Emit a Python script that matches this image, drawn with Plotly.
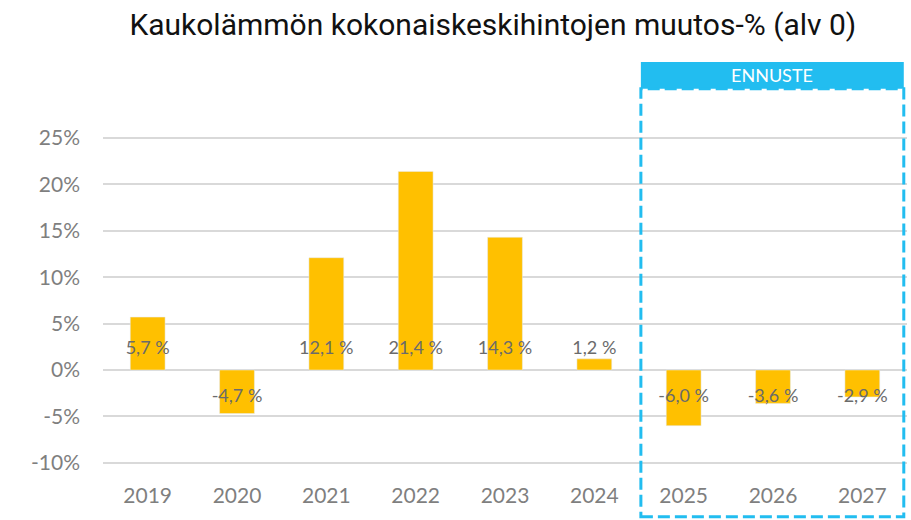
import plotly.graph_objects as go

years = ["2019", "2020", "2021", "2022", "2023", "2024", "2025", "2026", "2027"]
changes = [5.7, -4.7, 12.1, 21.4, 14.3, 1.2, -6.0, -3.6, -2.9]
labels = ["5,7 %", "-4,7 %", "12,1 %", "21,4 %", "14,3 %", "1,2 %", "-6,0 %", "-3,6 %", "-2,9 %"]
y_ticks = [-10, -5, 0, 5, 10, 15, 20, 25]
y_tick_text = ["-10%", "-5%", "0%", "5%", "10%", "15%", "20%", "25%"]
title_text = "Kaukolämmön kokonaiskeskihintojen muutos-% (alv 0)"
forecast_label = "ENNUSTE"

GOLD = "#FFC000"
BLUE = "#22BDF0"
GRAY = "#7F7F7F"
FONT = "Lato, Roboto, sans-serif"

label_y = [2.2 if v > 0 else -3.0 for v in changes]

fig = go.Figure()
fig.add_trace(go.Bar(x=years, y=changes, marker_color=GOLD, width=0.39,
                     hoverinfo="skip"))
fig.add_trace(go.Scatter(x=years, y=label_y, mode="text", text=labels,
                         textfont=dict(size=18, color="#6B6B6B", family=FONT),
                         hoverinfo="skip"))

fig.update_layout(
    width=911, height=520,
    margin=dict(l=103, r=4, t=135, b=39),
    paper_bgcolor="white", plot_bgcolor="white",
    showlegend=False,
    title=dict(text=title_text, x=0.541, xanchor="center", y=0.952, yanchor="middle",
               font=dict(size=30, color="#111111", family="Roboto, sans-serif")),
    xaxis=dict(type="category", showgrid=False, zeroline=False, showline=False,
               tickfont=dict(size=21, color=GRAY, family=FONT), ticks=""),
    yaxis=dict(range=[-11.96, 25.32], tickvals=y_ticks, ticktext=y_tick_text,
               showgrid=True, gridcolor="#D9D9D9", gridwidth=1.5,
               zeroline=False, showline=False, ticklabelstandoff=22,
               tickfont=dict(size=21, color=GRAY, family=FONT)),
)

# forecast box
fig.add_shape(type="rect", xref="paper", yref="paper",
              x0=0.669, x1=0.996, y0=1.134, y1=1.211,
              fillcolor=BLUE, line=dict(width=0), layer="above")
fig.add_shape(type="rect", xref="paper", yref="paper",
              x0=0.669, x1=0.996, y0=-0.103, y1=1.134,
              fillcolor="rgba(0,0,0,0)", line=dict(color=BLUE, width=3, dash="12px,5px"),
              layer="above")
fig.add_annotation(xref="paper", yref="paper", x=0.8325, y=1.1725,
                   xanchor="center", yanchor="middle",
                   text=forecast_label, showarrow=False,
                   font=dict(size=18, color="white", family=FONT))

fig.write_html("out.html", config={"displayModeBar": False},
               post_script="document.body.style.margin='0px';")
